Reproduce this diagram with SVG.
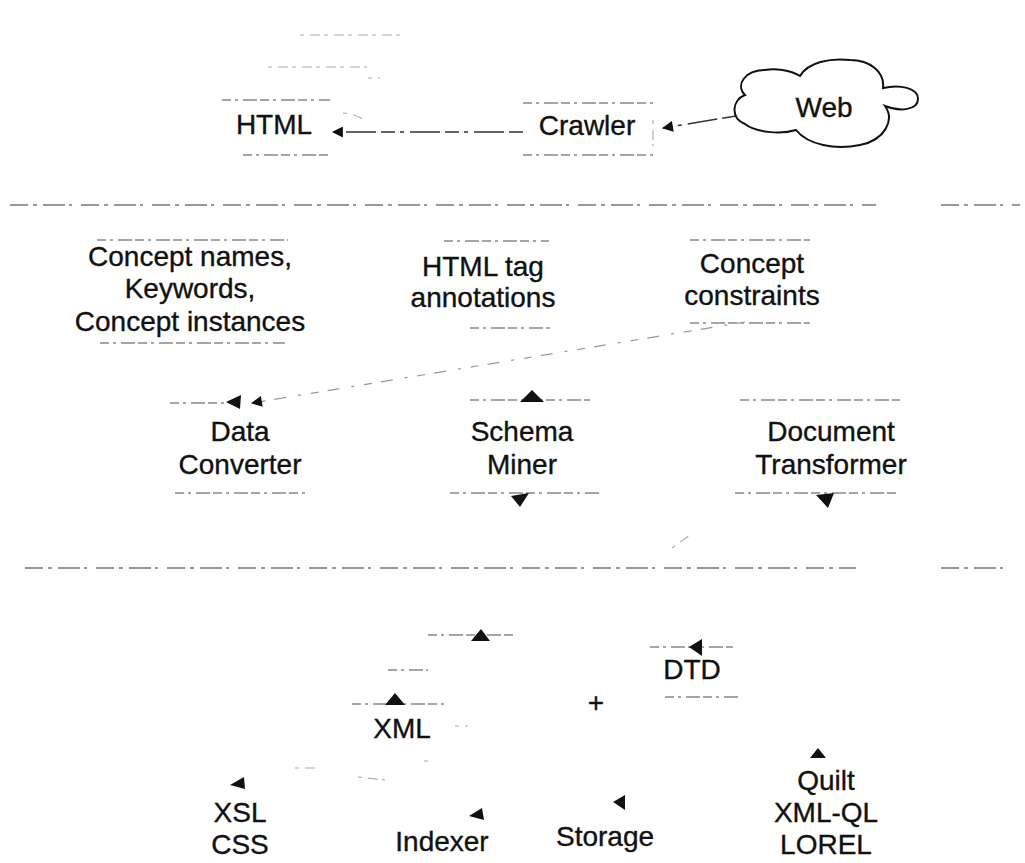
<svg xmlns="http://www.w3.org/2000/svg" width="1025" height="863" viewBox="0 0 1025 863">
  <style>
    .lbl { font-family: "Liberation Sans", Arial, sans-serif; font-size: 28px; fill: #111; stroke: #111; stroke-width: 0.35; text-anchor: middle; }
    .faint { stroke: #888; stroke-width: 1.3; fill: none; stroke-dasharray: 9 4 3 5 14 3; }
    .faint2 { stroke: #aaa; stroke-width: 1.1; fill: none; stroke-dasharray: 4 6 10 4; }
    .sep { stroke: #777; stroke-width: 1.3; fill: none; stroke-dasharray: 18 5 4 6 22 4 3 9; }
    .conn { stroke: #333; stroke-width: 1.5; fill: none; stroke-dasharray: 14 5 30 6 4 5; }
    .weak { stroke: #999; stroke-width: 1.2; fill: none; stroke-dasharray: 8 10 3 12 12 9; }
    .head { fill: #111; }
  </style>
  <defs>
    <marker id="arrow" viewBox="0 0 10 10" refX="9" refY="5" markerWidth="14" markerHeight="11" orient="auto-start-reverse" markerUnits="userSpaceOnUse">
      <path d="M0,0 L10,5 L0,10 Z" class="head"/>
    </marker>
  </defs>
  <rect width="1025" height="863" fill="#fff"/>

  <!-- section separators -->
  <g id="separators">
    <path class="sep" d="M10,205 H876 M941,205 H1020"/>
    <path class="sep" d="M25,568 H856 M941,568 H1010"/>
  </g>

  <!-- faint box edges around the labels -->
  <g id="box-edges">
    <path class="faint2" d="M300,35 H403 M268,67 H367 M368,78 H380"/>
    <path class="faint" d="M222,100 H330 M243,155 H330"/>
    <path class="faint2" d="M343,113 Q355,114 363,119"/>
    <path class="faint" d="M523,103 H653 M523,155 H653"/>
    <path class="faint2" d="M653,120 V146"/>
    <path class="faint" d="M97,240 H288 M100,343 H285"/>
    <path class="faint" d="M444,241 H549 M470,328 H550"/>
    <path class="faint" d="M690,240 H810 M690,323 H810"/>
    <path class="faint" d="M170,403 H226 M175,493 H310"/>
    <path class="faint" d="M470,400 H590 M450,493 H600"/>
    <path class="faint" d="M740,400 H900 M735,493 H900"/>
    <path class="faint2" d="M672,548 L690,535"/>
    <path class="faint" d="M428,635 H513 M388,670 H428 M352,704 H445"/>
    <path class="faint" d="M650,647 H733 M665,697 H738"/>
    <path class="faint2" d="M455,726 H468 M295,768 H318 M358,777 L385,780 M424,761 H432"/>
  </g>

  <!-- connectors -->
  <g id="connectors">
    <path class="conn" d="M523,132 H333" marker-end="url(#arrow)"/>
    <path class="conn" d="M736,116 L663,128" marker-end="url(#arrow)"/>
    <path class="weak" d="M745,322 L252,403" marker-end="url(#arrow)"/>
    <path class="head" d="M226,402 L241,395 L240,409 Z"/>
    <path class="head" d="M520,402 L532,390 L544,402 Z"/>
    <path class="head" d="M511,496 L529,493 L520,507 Z"/>
    <path class="head" d="M816,495 L834,493 L828,508 Z"/>
    <path class="head" d="M471,641 L481,629 L490,641 Z"/>
    <path class="head" d="M689,647 L702,639 L702,656 Z"/>
    <path class="head" d="M385,705 L395,693 L405,705 Z"/>
    <path class="head" d="M230,785 L244,777 L245,789 Z"/>
    <path class="head" d="M469,816 L482,808 L484,820 Z"/>
    <path class="head" d="M613,802 L625,795 L625,810 Z"/>
    <path class="head" d="M810,758 L818,748 L826,758 Z"/>
  </g>

  <!-- nodes -->
  <g id="node-web">
    <path d="M745,95 C735,85 745,70 765,70 C775,68 790,70 800,76 C808,62 830,58 850,60 C870,60 885,72 883,88 C900,84 918,88 918,99 C918,110 900,112 885,106 C895,120 885,140 860,145 C835,150 808,145 796,130 C780,135 755,132 745,124 C730,118 732,100 745,95 Z" fill="#fff" stroke="#111" stroke-width="2"/>
    <text class="lbl" x="824" y="117">Web</text>
  </g>
  <g id="node-crawler"><text class="lbl" x="587" y="135">Crawler</text></g>
  <g id="node-html"><text class="lbl" x="274" y="134">HTML</text></g>
  <g id="node-concepts">
    <text class="lbl" x="190" y="266">Concept names,</text>
    <text class="lbl" x="190" y="298">Keywords,</text>
    <text class="lbl" x="190" y="331">Concept instances</text>
  </g>
  <g id="node-tags">
    <text class="lbl" x="483" y="276">HTML tag</text>
    <text class="lbl" x="483" y="307">annotations</text>
  </g>
  <g id="node-constraints">
    <text class="lbl" x="752" y="273">Concept</text>
    <text class="lbl" x="752" y="305">constraints</text>
  </g>
  <g id="node-converter">
    <text class="lbl" x="240" y="441">Data</text>
    <text class="lbl" x="240" y="474">Converter</text>
  </g>
  <g id="node-miner">
    <text class="lbl" x="522" y="441">Schema</text>
    <text class="lbl" x="522" y="474">Miner</text>
  </g>
  <g id="node-transformer">
    <text class="lbl" x="831" y="441">Document</text>
    <text class="lbl" x="831" y="474">Transformer</text>
  </g>
  <g id="node-xml"><text class="lbl" x="402" y="738">XML</text></g>
  <g id="node-plus"><text class="lbl" x="596" y="712">+</text></g>
  <g id="node-dtd"><text class="lbl" x="692" y="679">DTD</text></g>
  <g id="node-xsl">
    <text class="lbl" x="240" y="822">XSL</text>
    <text class="lbl" x="240" y="854">CSS</text>
  </g>
  <g id="node-indexer"><text class="lbl" x="442" y="851">Indexer</text></g>
  <g id="node-storage"><text class="lbl" x="605" y="846">Storage</text></g>
  <g id="node-query">
    <text class="lbl" x="826" y="790">Quilt</text>
    <text class="lbl" x="826" y="822">XML-QL</text>
    <text class="lbl" x="826" y="854">LOREL</text>
  </g>
</svg>
